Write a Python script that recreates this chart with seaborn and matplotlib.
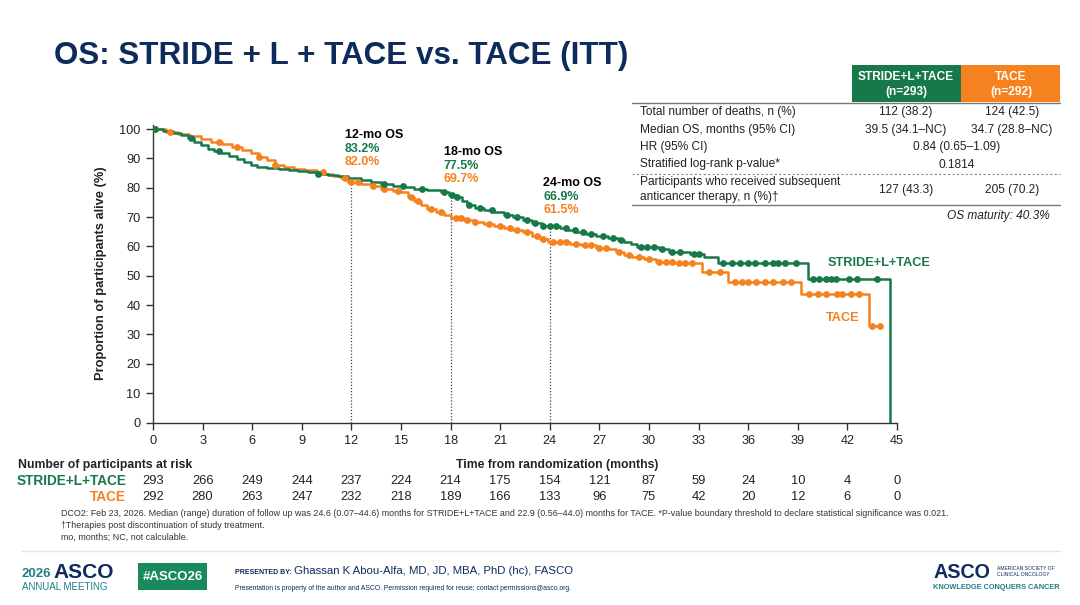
import numpy as np
import pandas as pd
import matplotlib
matplotlib.use("Agg")
import matplotlib.pyplot as plt
import matplotlib.transforms as mtransforms
from matplotlib.patches import Rectangle
from matplotlib.lines import Line2D
import seaborn as sns

GREEN = "#17794a"
ORANGE = "#f5821f"
NAVY = "#0d2b5c"
TEAL = "#1f7f86"
DARK = "#222222"

# KM curves: step times (months) and survival (%) from that time onwards
stride_t = [0, 0.6, 1.2, 1.7, 2.1, 2.5, 2.9, 3.3, 3.7, 4.1, 4.6, 5.1, 5.5, 5.9, 6.3,
            6.9, 7.6, 8.2, 8.8, 9.4, 10.0, 10.6, 11.2, 11.8, 12.6, 13.2, 13.8, 14.5,
            15.2, 15.8, 16.6, 17.4, 17.9, 18.3, 18.7, 19.0, 19.5, 20.0, 20.6, 21.2,
            21.8, 22.4, 22.9, 23.5, 24.6, 25.1, 25.6, 26.2, 26.8, 27.5, 28.1, 28.5,
            28.9, 29.3, 30.6, 31.2, 32.5, 33.3, 34.2, 39.6, 44.6]
stride_s = [100, 99.3, 98.6, 97.9, 96.9, 95.5, 94.5, 93.1, 92.4, 91.7, 90.7, 89.7, 88.6,
            87.6, 87.0, 86.6, 86.3, 85.9, 85.6, 85.2, 84.8, 84.3, 83.9, 83.2, 82.5, 81.8,
            81.1, 80.5, 80.1, 79.5, 79.1, 78.4, 77.5, 76.8, 75.4, 74.1, 73.2, 72.4, 71.6,
            70.8, 70.0, 69.0, 67.9, 66.9, 66.4, 65.7, 64.9, 64.2, 63.4, 62.9, 62.3, 61.6,
            60.8, 59.8, 59.0, 58.1, 57.3, 56.4, 54.4, 49.0, 0]
tace_t = [0, 0.8, 1.5, 2.2, 2.9, 3.5, 4.2, 4.8, 5.4, 5.9, 6.4, 6.9, 7.4, 7.9, 8.5, 9.2,
          9.9, 10.4, 10.9, 11.4, 11.8, 12.6, 13.2, 13.8, 14.5, 15.0, 15.4, 15.8, 16.2,
          16.6, 17.1, 17.6, 18.0, 18.8, 19.4, 20.0, 20.6, 21.2, 21.8, 22.4, 22.9, 23.4,
          23.9, 25.2, 25.9, 26.8, 27.6, 28.0, 28.5, 29.0, 29.7, 30.4, 31.5, 33.2, 34.8,
          39.2, 43.3, 44.0]
tace_s = [100, 99.0, 98.3, 97.5, 96.5, 95.5, 94.8, 93.8, 92.8, 91.7, 90.3, 89.3, 87.9,
          86.9, 86.3, 85.9, 85.4, 84.8, 84.1, 83.2, 82.0, 81.3, 80.5, 79.7, 79.0, 78.4,
          77.0, 75.4, 74.0, 72.8, 71.6, 70.6, 69.7, 69.0, 68.3, 67.6, 66.9, 66.2, 65.5,
          64.8, 63.6, 62.5, 61.5, 60.9, 60.4, 59.6, 59.0, 58.1, 57.1, 56.4, 55.6, 54.7,
          54.2, 51.3, 47.8, 43.7, 32.8, 32.8]

# censoring times (months)
stride_cens = [0.1, 2.3, 4.0, 10.0, 14.0, 15.1, 16.3, 17.6, 18.1, 18.4, 19.1, 19.8, 20.5,
               21.4, 22.0, 22.6, 23.1, 23.6, 24.0, 24.4, 25.0, 25.5, 26.0, 26.5, 27.2,
               27.8, 28.3, 29.5, 29.9, 30.3, 30.8, 31.4, 31.9, 32.7, 33.0, 34.5, 35.0,
               35.5, 36.0, 36.4, 37.0, 37.5, 37.8, 38.2, 38.9, 39.9, 40.3, 40.7, 41.0,
               41.3, 42.1, 42.6, 43.8]
tace_cens = [0.1, 1.0, 4.0, 5.1, 6.4, 7.4, 10.3, 11.6, 12.0, 12.4, 13.3, 14.0, 14.8, 15.6,
             16.0, 16.8, 17.4, 18.3, 18.6, 19.0, 19.5, 20.3, 21.0, 21.6, 22.0, 22.6, 23.2,
             23.6, 24.2, 24.6, 25.0, 25.6, 26.1, 26.5, 27.0, 27.4, 28.2, 28.8, 29.4, 30.0,
             30.6, 31.0, 31.4, 31.8, 32.2, 32.6, 33.6, 34.3, 35.2, 35.6, 36.0, 36.5, 37.0,
             37.5, 38.1, 38.6, 39.7, 40.2, 40.7, 41.4, 41.7, 42.2, 42.7, 43.5, 44.0]

months = list(range(0, 46, 3))
stride_risk = [293, 266, 249, 244, 237, 224, 214, 175, 154, 121, 87, 59, 24, 10, 4, 0]
tace_risk = [292, 280, 263, 247, 232, 218, 189, 166, 133, 96, 75, 42, 20, 12, 6, 0]

landmarks = [12, 18, 24]
lm_stride = [83.2, 77.5, 66.9]
lm_tace = [82.0, 69.7, 61.5]

tbl_rows = ["Total number of deaths, n (%)", "Median OS, months (95% CI)",
            "HR (95% CI)", "Stratified log-rank p-value*"]
tbl_stride = ["112 (38.2)", "39.5 (34.1–NC)"]
tbl_tace = ["124 (42.5)", "34.7 (28.8–NC)"]
tbl_joint = ["0.84 (0.65–1.09)", "0.1814"]
subseq_label = "Participants who received subsequent\nanticancer therapy, n (%)†"
subseq_stride = "127 (43.3)"
subseq_tace = "205 (70.2)"

footnotes = [
    "DCO2: Feb 23, 2026. Median (range) duration of follow up was 24.6 (0.07–44.6) months for "
    "STRIDE+L+TACE and 22.9 (0.56–44.0) months for TACE. *P-value boundary threshold to declare "
    "statistical significance was 0.021.",
    "†Therapies post discontinuation of study treatment.",
    "mo, months; NC, not calculable.",
]

sns.set_theme(style="white")
plt.rcParams["font.family"] = ["Liberation Sans", "DejaVu Sans"]

W, H = 1080, 605
fig = plt.figure(figsize=(W / 100, H / 100), dpi=100)
fig.patch.set_facecolor("white")


def fx(x):
    return x / W


def fy(y):
    return 1 - y / H


def ftext(x, y, s, **kw):
    kw.setdefault("va", "center")
    kw.setdefault("color", DARK)
    fig.text(fx(x), fy(y), s, **kw)


def fline(x0, x1, y, **kw):
    fig.add_artist(Line2D([fx(x0), fx(x1)], [fy(y), fy(y)], transform=fig.transFigure, **kw))


# ---- main KM axes ----
ax = fig.add_axes([fx(153), fy(422.5), fx(897) - fx(153), fy(124.6) - fy(422.5)])

for t, s, cens, col in [(tace_t, tace_s, tace_cens, ORANGE),
                         (stride_t, stride_s, stride_cens, GREEN)]:
    df = pd.DataFrame({"t": t, "s": s})
    sns.lineplot(data=df, x="t", y="s", ax=ax, color=col, lw=1.8,
                 drawstyle="steps-post", estimator=None, sort=False)
    idx = np.searchsorted(np.array(t), np.array(cens), side="right") - 1
    cdf = pd.DataFrame({"t": cens, "s": np.array(s)[idx]})
    sns.scatterplot(data=cdf, x="t", y="s", ax=ax, color=col, s=24,
                    edgecolor=col, linewidth=0, zorder=3)

for lm, vs, vt in zip(landmarks, lm_stride, lm_tace):
    ax.vlines(lm, 0, vs, colors="#444444", linestyles=(0, (1, 1.5)), lw=0.9, zorder=1)
    ax.text(lm - 0.4, vs + 14.7, f"{lm}-mo OS", fontsize=9, fontweight="bold",
            color="black", va="center", ha="left")
    ax.text(lm - 0.4, vs + 10.0, f"{vs:.1f}%", fontsize=9, fontweight="bold",
            color=GREEN, va="center", ha="left")
    ax.text(lm - 0.4, vs + 5.4, f"{vt:.1f}%", fontsize=9, fontweight="bold",
            color=ORANGE, va="center", ha="left")

ax.text(40.8, 54.4, "STRIDE+L+TACE", fontsize=9.2, fontweight="bold", color=GREEN,
        va="center", ha="left")
ax.text(40.7, 35.7, "TACE", fontsize=9.2, fontweight="bold", color=ORANGE,
        va="center", ha="left")

ax.set_xlim(0, 45)
ax.set_ylim(0, 101.5)
ax.set_xticks(months)
ax.set_yticks(range(0, 101, 10))
ax.set_xlabel("")
ax.set_ylabel("Proportion of participants alive (%)", fontsize=9.3, fontweight="bold",
              color=DARK, labelpad=9)
ax.tick_params(axis="both", direction="out", length=5, width=1, color="#333333",
               labelsize=9.2, labelcolor=DARK, bottom=True, left=True, pad=4)
sns.despine(ax=ax)
for sp in ("left", "bottom"):
    ax.spines[sp].set_color("#333333")
    ax.spines[sp].set_linewidth(1)
ax.set_facecolor("white")

# ---- at risk table ----
trans = mtransforms.blended_transform_factory(ax.transData, fig.transFigure)
ftext(18, 465, "Number of participants at risk", fontsize=8.8, fontweight="bold", ha="left")
ftext(557, 465, "Time from randomization (months)", fontsize=8.8, fontweight="bold",
      ha="center")
ftext(126, 481, "STRIDE+L+TACE", fontsize=9.8, fontweight="bold", ha="right", color=GREEN)
ftext(126, 497, "TACE", fontsize=9.8, fontweight="bold", ha="right", color=ORANGE)
for m, a, b in zip(months, stride_risk, tace_risk):
    fig.text(m, fy(481), str(a), transform=trans, ha="center", va="center",
             fontsize=9.3, color=DARK)
    fig.text(m, fy(497), str(b), transform=trans, ha="center", va="center",
             fontsize=9.3, color=DARK)

for i, note in enumerate(footnotes):
    ftext(61, 514 + i * 11.5, note, fontsize=6.4, ha="left", color="#333333")

# ---- title ----
ftext(54, 56, "OS: STRIDE + L + TACE vs. TACE (ITT)", fontsize=22.6, fontweight="bold",
      color=NAVY, ha="left")

# ---- summary table ----
fig.add_artist(Rectangle((fx(852), fy(102)), fx(961) - fx(852), fy(65) - fy(102),
                         transform=fig.transFigure, color=GREEN, lw=0))
fig.add_artist(Rectangle((fx(961), fy(102)), fx(1060) - fx(961), fy(65) - fy(102),
                         transform=fig.transFigure, color=ORANGE, lw=0))
ftext(906, 76.5, "STRIDE+L+TACE", fontsize=8.6, fontweight="bold", color="white", ha="center")
ftext(906, 91.5, "(n=293)", fontsize=8.6, fontweight="bold", color="white", ha="center")
ftext(1011, 76.5, "TACE", fontsize=8.6, fontweight="bold", color="white", ha="center")
ftext(1011, 91.5, "(n=292)", fontsize=8.6, fontweight="bold", color="white", ha="center")
fline(632, 1060, 102.5, color="#777777", lw=1)

row_y = [111.5, 129.5, 147, 164.5]
for i, (lab, y) in enumerate(zip(tbl_rows, row_y)):
    ftext(640, y, lab, fontsize=8.6, ha="left")
    if i < 2:
        ftext(906, y, tbl_stride[i], fontsize=8.6, ha="center")
        ftext(1012, y, tbl_tace[i], fontsize=8.6, ha="center")
    else:
        ftext(957, y, tbl_joint[i - 2], fontsize=8.6, ha="center")
fline(632, 1060, 173.5, color="#888888", lw=0.8, ls=(0, (2, 2)))
ftext(640, 189.5, subseq_label, fontsize=8.6, ha="left", linespacing=1.4)
ftext(906, 189.5, subseq_stride, fontsize=8.6, ha="center")
ftext(1012, 189.5, subseq_tace, fontsize=8.6, ha="center")
fline(632, 1060, 204.5, color="#777777", lw=1)
ftext(1050, 215.5, "OS maturity: 40.3%", fontsize=8.6, style="italic", ha="right")

# ---- footer ----
fline(22, 1060, 551, color="#e3e3e3", lw=1)
ftext(22, 574, "2026", fontsize=9.5, fontweight="bold", color=TEAL, ha="left")
ftext(53, 572, "ASCO", fontsize=15, fontweight="bold", color=NAVY, ha="left")
ftext(22, 587, "ANNUAL MEETING", fontsize=7, color=TEAL, ha="left")
fig.add_artist(Rectangle((fx(138), fy(590)), fx(207) - fx(138), fy(563) - fy(590),
                         transform=fig.transFigure, color="#1a8a5c", lw=0))
ftext(172.5, 576.5, "#ASCO26", fontsize=9.5, fontweight="bold", color="white", ha="center")
ftext(235, 572, "PRESENTED BY:", fontsize=5, fontweight="bold", color=NAVY, ha="left")
ftext(294, 571.5, "Ghassan K Abou-Alfa, MD, JD, MBA, PhD (hc), FASCO", fontsize=8.2,
      color=NAVY, ha="left")
ftext(235, 588, "Presentation is property of the author and ASCO. Permission required for reuse; "
      "contact permissions@asco.org.", fontsize=4.9, color=NAVY, ha="left")
ftext(933, 573, "ASCO", fontsize=14.2, fontweight="bold", color=NAVY, ha="left")
ftext(997, 568.5, "AMERICAN SOCIETY OF", fontsize=3.6, color=NAVY, ha="left")
ftext(997, 575, "CLINICAL ONCOLOGY", fontsize=3.6, color=NAVY, ha="left")
ftext(933, 587.5, "KNOWLEDGE CONQUERS CANCER", fontsize=5.3, fontweight="bold",
      color=TEAL, ha="left")

fig.savefig("out.png", dpi=100, facecolor="white")
